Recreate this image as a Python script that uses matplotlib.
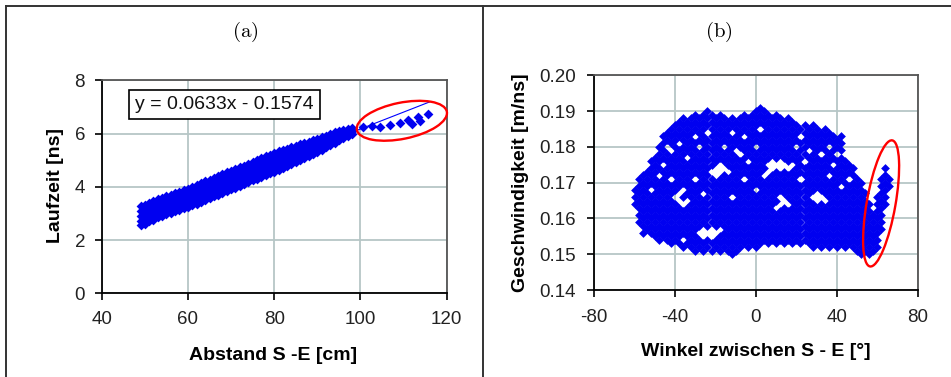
import matplotlib
matplotlib.use('Agg')
import matplotlib.pyplot as plt
from matplotlib.patches import Ellipse
from matplotlib.lines import Line2D
from matplotlib import transforms
from matplotlib.ticker import FormatStrFormatter

plt.rcParams['font.family'] = ['Liberation Sans', 'DejaVu Sans']
plt.rcParams['mathtext.fontset'] = 'cm'
plt.rcParams['axes.unicode_minus'] = False

# ---------------- (a) Laufzeit vs. Abstand ----------------
abstand_cols = [49, 50, 51, 52, 53, 54, 55, 56, 57, 58, 59, 60, 61, 62, 63, 64, 65, 66, 67, 68,
                69, 70, 71, 72, 73, 74, 75, 76, 77, 78, 79, 80, 81, 82, 83, 84, 85, 86, 87, 88,
                89, 90, 91, 92, 93, 94, 95, 96, 97, 98]
laufzeit_cols = [
    [2.55, 2.73, 2.91, 3.09, 3.27], [2.62, 2.80, 2.98, 3.15, 3.33], [2.70, 2.88, 3.05, 3.23, 3.40],
    [2.77, 2.94, 3.12, 3.29, 3.46], [2.85, 3.02, 3.19, 3.36, 3.53], [2.92, 3.09, 3.26, 3.42, 3.59],
    [2.97, 3.14, 3.31, 3.48, 3.65], [3.03, 3.20, 3.37, 3.53, 3.70], [3.08, 3.25, 3.42, 3.59, 3.76],
    [3.13, 3.30, 3.48, 3.65, 3.82], [3.19, 3.36, 3.53, 3.70, 3.87], [3.24, 3.41, 3.59, 3.76, 3.93],
    [3.31, 3.48, 3.66, 3.83, 4.00], [3.37, 3.54, 3.72, 3.89, 4.06], [3.44, 3.61, 3.79, 3.96, 4.13],
    [3.51, 3.68, 3.86, 4.03, 4.20], [3.57, 3.75, 3.92, 4.10, 4.27], [3.64, 3.82, 3.99, 4.17, 4.34],
    [3.70, 3.88, 4.05, 4.23, 4.40], [3.77, 3.95, 4.12, 4.30, 4.47], [3.84, 4.02, 4.19, 4.37, 4.54],
    [3.90, 4.08, 4.25, 4.43, 4.60], [3.97, 4.15, 4.32, 4.50, 4.67], [4.03, 4.21, 4.39, 4.56, 4.74],
    [4.10, 4.28, 4.45, 4.63, 4.80], [4.17, 4.35, 4.52, 4.70, 4.87], [4.24, 4.42, 4.59, 4.77, 4.94],
    [4.30, 4.48, 4.66, 4.83, 5.01], [4.37, 4.55, 4.73, 4.90, 5.08], [4.44, 4.62, 4.79, 4.97, 5.14],
    [4.50, 4.68, 4.86, 5.03, 5.21], [4.57, 4.75, 4.93, 5.10, 5.28], [4.64, 4.81, 4.99, 5.16, 5.33],
    [4.72, 4.89, 5.05, 5.22, 5.38], [4.79, 4.95, 5.11, 5.27, 5.43], [4.86, 5.02, 5.17, 5.33, 5.48],
    [4.94, 5.09, 5.24, 5.39, 5.54], [5.01, 5.16, 5.30, 5.45, 5.59], [5.08, 5.22, 5.36, 5.50, 5.64],
    [5.16, 5.29, 5.43, 5.56, 5.69], [5.23, 5.36, 5.49, 5.61, 5.74], [5.30, 5.47, 5.63, 5.80],
    [5.39, 5.55, 5.70, 5.86], [5.48, 5.63, 5.77, 5.92], [5.56, 5.70, 5.84, 5.98],
    [5.65, 5.78, 5.91, 6.04], [5.74, 5.92, 6.10], [5.83, 5.98, 6.13], [5.92, 6.05, 6.17],
    [6.00, 6.10, 6.20],
]
abstand_tail = [100.7, 102.6, 104.5, 106.9, 109.2, 111.1, 111.9, 113.4, 113.8, 115.7]
laufzeit_tail = [6.26, 6.28, 6.26, 6.32, 6.38, 6.51, 6.35, 6.63, 6.47, 6.72]
trend_slope = 0.0633
trend_intercept = -0.1574
trend_range = [49, 116]

# ---------------- (b) Geschwindigkeit vs. Winkel ----------------
winkel_cols = [-60, -58, -56, -54, -52, -50, -48, -46, -44, -42, -40, -38, -36, -34, -32, -30,
               -28, -26, -24, -22, -20, -18, -16, -14, -12, -10, -8, -6, -4, -2, 0, 2,
               4, 6, 8, 10, 12, 14, 16, 18, 20, 22, 24, 26, 28, 30, 32, 34,
               36, 38, 40, 42, 44, 46, 48, 50, 52, 54, 56, 58, 60, 62, 64, 66]
# velocity in 1/1000 m/ns
geschw_milli_cols = [
    [164, 166, 168],
    [159, 161, 163, 165, 167, 169, 171],
    [156, 158, 160, 162, 164, 166, 168, 170, 172],
    [157, 159, 161, 163, 165, 167, 169, 171, 173],
    [156, 158, 160, 162, 164, 166, 170, 172, 174, 176],
    [155, 157, 159, 161, 163, 165, 167, 169, 171, 173, 175, 177],
    [154, 156, 158, 160, 162, 164, 166, 168, 170, 174, 176, 178, 180],
    [155, 157, 159, 161, 163, 165, 167, 169, 171, 173, 177, 179, 181, 183],
    [154, 156, 158, 160, 162, 164, 166, 168, 170, 172, 174, 176, 178, 182, 184],
    [153, 155, 157, 159, 161, 163, 165, 167, 169, 173, 175, 177, 181, 183, 185],
    [154, 156, 158, 160, 162, 164, 168, 170, 172, 174, 176, 178, 180, 182, 184, 186],
    [153, 155, 157, 159, 161, 163, 169, 171, 173, 175, 177, 179, 183, 185, 187],
    [152, 156, 158, 160, 162, 166, 170, 172, 174, 176, 178, 180, 182, 184, 186, 188],
    [153, 155, 157, 159, 161, 163, 167, 169, 171, 173, 175, 179, 181, 183, 185, 187],
    [152, 154, 156, 158, 160, 162, 164, 166, 168, 170, 172, 174, 176, 178, 180, 182, 184, 186, 188],
    [151, 153, 155, 157, 159, 161, 163, 165, 167, 169, 173, 175, 177, 179, 181, 185, 187, 189],
    [152, 154, 158, 160, 162, 164, 166, 168, 170, 172, 174, 176, 178, 182, 184, 186, 188],
    [151, 153, 159, 161, 163, 165, 169, 171, 173, 175, 177, 179, 181, 183, 185, 187, 189],
    [152, 154, 158, 160, 162, 164, 166, 168, 170, 172, 174, 176, 178, 180, 182, 186, 188, 190],
    [151, 153, 159, 161, 163, 165, 167, 169, 171, 175, 177, 179, 181, 183, 185, 187, 189],
    [152, 154, 158, 160, 162, 164, 166, 168, 170, 176, 178, 180, 182, 184, 186, 188],
    [151, 153, 155, 159, 161, 163, 165, 167, 169, 171, 177, 179, 181, 183, 185, 187, 189],
    [152, 154, 156, 158, 160, 162, 164, 166, 168, 170, 172, 176, 178, 182, 184, 186, 188],
    [151, 153, 155, 157, 159, 161, 163, 165, 167, 169, 171, 175, 177, 179, 181, 183, 185, 187],
    [150, 152, 154, 156, 158, 160, 162, 164, 168, 170, 172, 174, 176, 178, 180, 182, 186, 188],
    [151, 153, 155, 157, 159, 161, 163, 165, 167, 169, 171, 173, 175, 177, 181, 183, 185, 187],
    [152, 154, 156, 158, 160, 162, 164, 166, 168, 170, 172, 174, 176, 180, 182, 184, 186, 188],
    [153, 155, 157, 159, 161, 163, 165, 167, 169, 173, 175, 177, 179, 181, 185, 187, 189],
    [152, 154, 156, 158, 160, 162, 164, 166, 168, 170, 172, 174, 178, 180, 182, 184, 186, 188],
    [153, 155, 157, 159, 161, 163, 165, 167, 169, 171, 173, 175, 177, 179, 181, 183, 185, 187, 189],
    [152, 154, 156, 158, 160, 162, 164, 166, 170, 172, 174, 176, 178, 182, 184, 186, 188, 190],
    [153, 155, 157, 159, 161, 163, 165, 167, 169, 171, 173, 175, 177, 179, 181, 183, 187, 189, 191],
    [154, 156, 158, 160, 162, 164, 166, 168, 170, 174, 176, 178, 180, 182, 184, 186, 188, 190],
    [153, 155, 157, 159, 161, 163, 165, 167, 169, 171, 177, 179, 181, 183, 185, 187, 189],
    [154, 156, 158, 160, 162, 164, 166, 168, 170, 172, 178, 180, 182, 184, 186, 188],
    [153, 155, 157, 159, 161, 165, 167, 169, 171, 173, 177, 179, 181, 183, 185, 187, 189],
    [154, 156, 158, 160, 162, 168, 170, 172, 178, 180, 182, 184, 186, 188],
    [153, 155, 157, 159, 161, 163, 167, 169, 171, 173, 177, 179, 181, 183, 185, 187],
    [154, 156, 158, 160, 162, 166, 168, 170, 172, 176, 178, 180, 182, 184, 186, 188],
    [153, 155, 157, 159, 161, 163, 165, 167, 169, 171, 173, 177, 179, 181, 183, 185, 187],
    [154, 156, 158, 160, 162, 164, 166, 168, 170, 172, 174, 176, 178, 182, 184, 186],
    [153, 155, 157, 159, 161, 163, 165, 167, 169, 173, 175, 177, 179, 181, 185],
    [154, 156, 158, 160, 162, 164, 166, 168, 170, 172, 174, 178, 180, 182, 184, 186],
    [153, 155, 157, 159, 161, 163, 165, 167, 169, 171, 173, 175, 177, 181, 183, 185],
    [152, 154, 156, 158, 160, 162, 164, 168, 170, 172, 174, 176, 178, 180, 182, 184, 186],
    [153, 155, 157, 159, 161, 163, 169, 171, 173, 175, 177, 179, 181, 183, 185],
    [152, 154, 156, 158, 160, 162, 164, 168, 170, 172, 174, 176, 180, 182, 184],
    [153, 155, 157, 159, 161, 163, 167, 169, 171, 173, 175, 177, 179, 181, 183, 185],
    [152, 154, 156, 158, 160, 162, 164, 166, 168, 170, 174, 176, 178, 182, 184],
    [153, 155, 157, 159, 161, 163, 165, 167, 169, 171, 173, 177, 179, 181, 183],
    [152, 154, 156, 158, 160, 162, 164, 166, 168, 170, 172, 174, 176, 180, 182],
    [153, 155, 157, 159, 161, 163, 165, 167, 171, 173, 175, 177, 179, 181, 183],
    [152, 154, 156, 158, 160, 162, 164, 166, 168, 170, 172, 174, 176],
    [153, 155, 157, 159, 161, 163, 165, 167, 169, 173, 175],
    [152, 154, 156, 158, 160, 162, 164, 166, 168, 170, 172, 174],
    [151, 153, 155, 157, 159, 161, 163, 165, 167, 169, 171],
    [150, 152, 154, 156, 158, 160, 162, 164, 166, 168, 170],
    [151, 153, 155, 157, 159, 161, 163, 165, 167],
    [150, 152, 154, 156, 158, 160, 162, 164],
    [151, 153, 155, 157, 159, 161],
    [152, 154, 156, 158, 160, 162, 164, 166],
    [157, 159, 161, 163, 165, 167, 169, 171],
    [164, 166, 168, 170, 172, 174],
    [169, 171],
]

BLUE = '#0000f0'
GRID = '#b6c6c6'
FRAME = '#555555'

fig = plt.figure(figsize=(9.51, 3.77), dpi=100)
W, H = 951.0, 377.0


def style_axes(ax):
    ax.set_axisbelow(True)
    ax.grid(True, color=GRID, lw=1.3)
    for s in ['top', 'right']:
        ax.spines[s].set_color(FRAME)
        ax.spines[s].set_linewidth(1.3)
    for s in ['left', 'bottom']:
        ax.spines[s].set_color('black')
        ax.spines[s].set_linewidth(1.3)
    ax.tick_params(direction='out', length=5, width=1.2, colors='black',
                   labelcolor='#222222', labelsize=13.5)


def px_ellipse(ax, cx, cy, w_px, h_px, angle):
    trans = fig.dpi_scale_trans + transforms.ScaledTranslation(cx, cy, ax.transData)
    e = Ellipse((0, 0), w_px / 100.0, h_px / 100.0, angle=angle, transform=trans,
                fill=False, edgecolor='#ff0000', lw=1.7, clip_on=False, zorder=5)
    ax.add_patch(e)


# ---- panel (a)
axa = fig.add_axes([101.7 / W, 1 - 293.3 / H, 345 / W, 213 / H])
style_axes(axa)
xa, ya = [], []
for x, col in zip(abstand_cols, laufzeit_cols):
    for y in col:
        xa.append(x)
        ya.append(y)
xa += abstand_tail
ya += laufzeit_tail
axa.plot(trend_range, [trend_slope * v + trend_intercept for v in trend_range],
         color='#0000ff', lw=0.8, zorder=2)
axa.scatter(xa, ya, marker='D', s=25, color=BLUE, linewidths=0, zorder=3)
axa.set_xlim(40, 120)
axa.set_ylim(0, 8)
axa.set_xticks([40, 60, 80, 100, 120])
axa.set_yticks([0, 2, 4, 6, 8])
axa.tick_params(axis='x', pad=8)
axa.tick_params(axis='y', pad=7)
axa.set_xlabel('Abstand S -E [cm]', fontsize=14, fontweight='bold', va='center')
axa.xaxis.set_label_coords(0.4965, -0.2897)
axa.set_ylabel('Laufzeit [ns]', fontsize=14, fontweight='bold', va='center')
axa.yaxis.set_label_coords(-0.133, 0.5038)
axa.text(0.3554, 0.8873, 'y = 0.0633x - 0.1574', transform=axa.transAxes,
         ha='center', va='center', fontsize=14, color='#111111', zorder=6,
         bbox=dict(boxstyle='square,pad=0.32', fc='white', ec='black', lw=1.2))
px_ellipse(axa, 109.6, 6.48, 91.8, 36.2, 11.5)

# ---- panel (b)
axb = fig.add_axes([594.3 / W, 1 - 290 / H, 323.4 / W, 214.7 / H])
style_axes(axb)
xb, yb = [], []
for x, col in zip(winkel_cols, geschw_milli_cols):
    for v in col:
        xb.append(x)
        yb.append(v / 1000.0)
axb.scatter(xb, yb, marker='D', s=20, color=BLUE, linewidths=0, zorder=3)
axb.set_xlim(-80, 80)
axb.set_ylim(0.14, 0.20)
axb.set_xticks([-80, -40, 0, 40, 80])
axb.set_yticks([0.14, 0.15, 0.16, 0.17, 0.18, 0.19, 0.20])
axb.yaxis.set_major_formatter(FormatStrFormatter('%.2f'))
axb.tick_params(axis='x', pad=9)
axb.tick_params(axis='y', pad=8)
axb.set_xlabel('Winkel zwischen S - E [°]', fontsize=14, fontweight='bold', va='center')
axb.xaxis.set_label_coords(0.4994, -0.2874)
axb.set_ylabel('Geschwindigkeit [m/ns]', fontsize=14, fontweight='bold', va='center')
axb.yaxis.set_label_coords(-0.2297, 0.5007)
px_ellipse(axb, 61.9, 0.1642, 128, 28.8, 80)

# ---- panel titles
fig.text(245 / W, 1 - 32 / H, r'$\mathrm{(a)}$', ha='center', va='center', fontsize=15)
fig.text(719 / W, 1 - 32 / H, r'$\mathrm{(b)}$', ha='center', va='center', fontsize=15)

# ---- table frame
lc = '#333333'
fig.add_artist(Line2D([6 / W, 1.0], [1 - 6 / H, 1 - 6 / H], transform=fig.transFigure, color=lc, lw=1.4))
fig.add_artist(Line2D([6 / W, 6 / W], [0, 1 - 6 / H], transform=fig.transFigure, color=lc, lw=1.4))
fig.add_artist(Line2D([483.5 / W, 483.5 / W], [0, 1 - 6 / H], transform=fig.transFigure, color=lc, lw=1.4))

fig.savefig('out.png', dpi=100, facecolor='white')
